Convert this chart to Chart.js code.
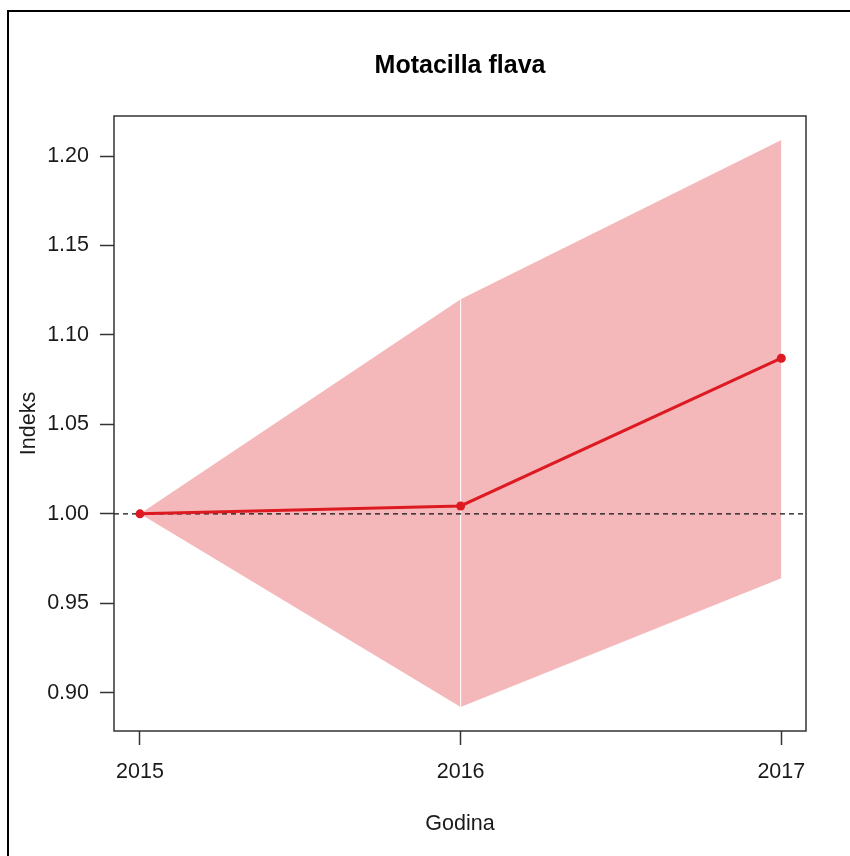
<!DOCTYPE html>
<html>
<head>
<meta charset="utf-8">
<script src="https://cdn.jsdelivr.net/npm/chart.js@4.4.1/dist/chart.umd.min.js"></script>
<style>
  html, body { margin: 0; padding: 0; background: #ffffff; }
  canvas { display: block; }
</style>
</head>
<body>
<canvas id="c" width="850" height="856"></canvas>
<script>
// ---- data ----
const years = [2015, 2016, 2017];
const indexMean = [1.000, 1.0044, 1.087];
const indexUpper = [1.000, 1.120, 1.209];
const indexLower = [1.000, 0.892, 0.964];
const yTicks = [0.90, 0.95, 1.00, 1.05, 1.10, 1.15, 1.20];
const xTicks = [2015, 2016, 2017];
const referenceLevel = 1.00;
const titleText = 'Motacilla flava';
const xTitle = 'Godina';
const yTitle = 'Indeks';

// axis ranges (R adds 4% padding)
const xMin = 2014.919, xMax = 2017.077;
const yMin = 0.8786, yMax = 1.2224;

const RED = '#dd1a22';
const BAND = '#f5b8ba';
const FONT = '"Liberation Sans", Arial, Helvetica, sans-serif';

const toPts = (xs, ys) => xs.map((x, i) => ({ x: x, y: ys[i] }));

const framePlugin = {
  id: 'frame',
  afterDraw(chart) {
    const ctx = chart.ctx;
    const a = chart.chartArea;
    ctx.save();
    // plot box
    ctx.strokeStyle = '#333333';
    ctx.lineWidth = 1.5;
    ctx.strokeRect(a.left, a.top, a.right - a.left, a.bottom - a.top);
    // outer image border (left and top)
    ctx.strokeStyle = '#000000';
    ctx.lineWidth = 2;
    ctx.beginPath();
    ctx.moveTo(8, 856);
    ctx.lineTo(8, 11);
    ctx.lineTo(850, 11);
    ctx.stroke();
    // main title
    ctx.fillStyle = '#000000';
    ctx.font = 'bold 25px ' + FONT;
    ctx.textAlign = 'center';
    ctx.textBaseline = 'middle';
    ctx.fillText(titleText, (a.left + a.right) / 2, 66);
    ctx.restore();
  }
};

new Chart(document.getElementById('c'), {
  type: 'line',
  data: {
    datasets: [
      {
        label: 'Indeks',
        data: toPts(years, indexMean),
        borderColor: RED,
        backgroundColor: RED,
        borderWidth: 3,
        pointRadius: 4.5,
        pointBackgroundColor: RED,
        pointBorderWidth: 0,
        fill: false,
        tension: 0
      },
      {
        label: 'ref',
        data: [{ x: xMin, y: referenceLevel }, { x: xMax, y: referenceLevel }],
        borderColor: '#111111',
        borderWidth: 1.2,
        borderDash: [5, 4],
        pointRadius: 0,
        fill: false
      },
      {
        label: 'split',
        data: [{ x: years[1], y: indexLower[1] }, { x: years[1], y: indexUpper[1] }],
        borderColor: '#ffffff',
        borderWidth: 1,
        pointRadius: 0,
        fill: false
      },
      {
        label: 'upper',
        data: toPts(years, indexUpper),
        borderWidth: 0,
        borderColor: 'rgba(0,0,0,0)',
        backgroundColor: BAND,
        pointRadius: 0,
        fill: '+1',
        tension: 0
      },
      {
        label: 'lower',
        data: toPts(years, indexLower),
        borderWidth: 0,
        borderColor: 'rgba(0,0,0,0)',
        pointRadius: 0,
        fill: false,
        tension: 0
      }
    ]
  },
  options: {
    responsive: false,
    animation: false,
    events: [],
    layout: { padding: { left: 0, right: 44, top: 116, bottom: 0 } },
    plugins: {
      legend: { display: false },
      tooltip: { enabled: false },
      title: { display: false }
    },
    scales: {
      x: {
        type: 'linear',
        min: xMin,
        max: xMax,
        afterBuildTicks: (s) => { s.ticks = xTicks.map(v => ({ value: v })); },
        afterFit: (s) => { s.height = 125; },
        grid: { drawOnChartArea: false, drawTicks: true, tickLength: 14, tickColor: '#333333', tickWidth: 1.5 },
        border: { display: false },
        ticks: {
          padding: 14,
          color: '#1a1a1a',
          font: { family: FONT, size: 21.5 },
          maxRotation: 0,
          autoSkip: false,
          callback: (v) => String(v)
        },
        title: {
          display: true,
          text: xTitle,
          color: '#1a1a1a',
          font: { family: FONT, size: 21.5 },
          padding: { top: 0, bottom: 19 }
        }
      },
      y: {
        type: 'linear',
        min: yMin,
        max: yMax,
        afterBuildTicks: (s) => { s.ticks = yTicks.map(v => ({ value: v })); },
        afterFit: (s) => { s.width = 114; },
        grid: { drawOnChartArea: false, drawTicks: true, tickLength: 14, tickColor: '#333333', tickWidth: 1.5 },
        border: { display: false },
        ticks: {
          padding: 11,
          color: '#1a1a1a',
          font: { family: FONT, size: 21.5 },
          autoSkip: false,
          callback: (v) => v.toFixed(2)
        },
        title: {
          display: true,
          text: yTitle,
          color: '#1a1a1a',
          font: { family: FONT, size: 21.5 },
          padding: { top: 16, bottom: 0 }
        }
      }
    }
  },
  plugins: [framePlugin]
});
</script>
</body>
</html>
